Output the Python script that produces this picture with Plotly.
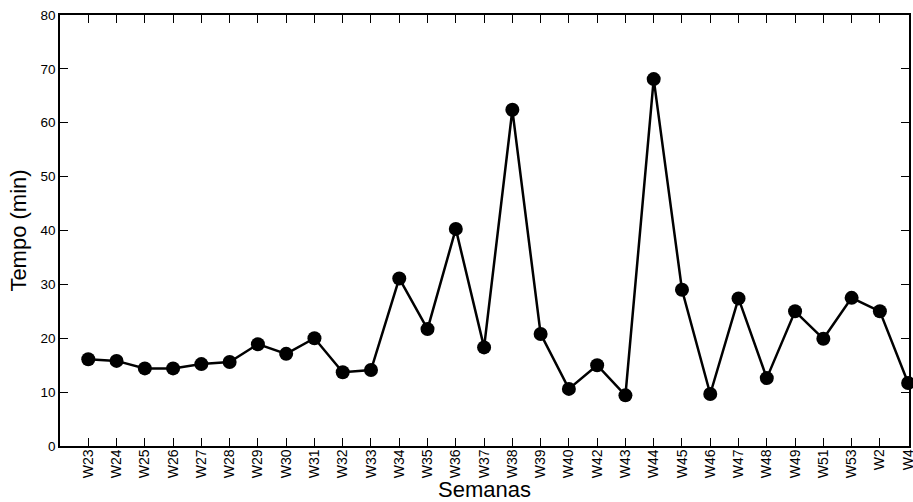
import plotly.graph_objects as go

semanas = ["W23", "W24", "W25", "W26", "W27", "W28", "W29", "W30", "W31", "W32",
           "W33", "W34", "W35", "W36", "W37", "W38", "W39", "W40", "W42", "W43",
           "W44", "W45", "W46", "W47", "W48", "W49", "W51", "W53", "W2", "W4"]
tempo = [16.1, 15.8, 14.4, 14.4, 15.2, 15.6, 18.9, 17.1, 20.0, 13.7,
         14.1, 31.1, 21.7, 40.3, 18.3, 62.4, 20.8, 10.6, 15.0, 9.4,
         68.1, 29.0, 9.65, 27.4, 12.6, 25.0, 19.9, 27.5, 25.0, 11.7]
y_ticks = [0, 10, 20, 30, 40, 50, 60, 70, 80]

x_idx = list(range(len(semanas)))

fig = go.Figure()
fig.add_trace(go.Scatter(
    x=x_idx, y=tempo, mode="lines+markers",
    line=dict(color="black", width=2.5),
    marker=dict(color="black", size=14),
    cliponaxis=False, showlegend=False,
))

font_family = "Liberation Sans, Arial, sans-serif"
fig.update_layout(
    width=913, height=502,
    margin=dict(l=60, r=4, t=15, b=56),
    paper_bgcolor="white", plot_bgcolor="white",
    font=dict(family=font_family, color="black", size=13),
)
fig.update_xaxes(
    range=[-1, 29.03], tickmode="array", tickvals=x_idx, ticktext=semanas,
    tickangle=-90, ticks="inside", ticklen=8, tickcolor="black", tickwidth=1,
    ticklabelstandoff=-4, ticklabeloverflow="allow",
    showline=True, linecolor="black", linewidth=1.5, mirror="ticks",
    showgrid=False, zeroline=False, tickfont=dict(size=14),
    title=dict(text="Semanas", font=dict(size=22), standoff=2),
    automargin=False,
)
fig.update_yaxes(
    range=[0, 80], tickmode="array", tickvals=y_ticks,
    ticks="inside", ticklen=8, tickcolor="black", tickwidth=1,
    showline=True, linecolor="black", linewidth=1.5, mirror="ticks",
    showgrid=False, zeroline=False, tickfont=dict(size=13.5),
    title=dict(text="Tempo (min)", font=dict(size=22), standoff=8),
    automargin=False,
)
fig.write_html("out.html")
